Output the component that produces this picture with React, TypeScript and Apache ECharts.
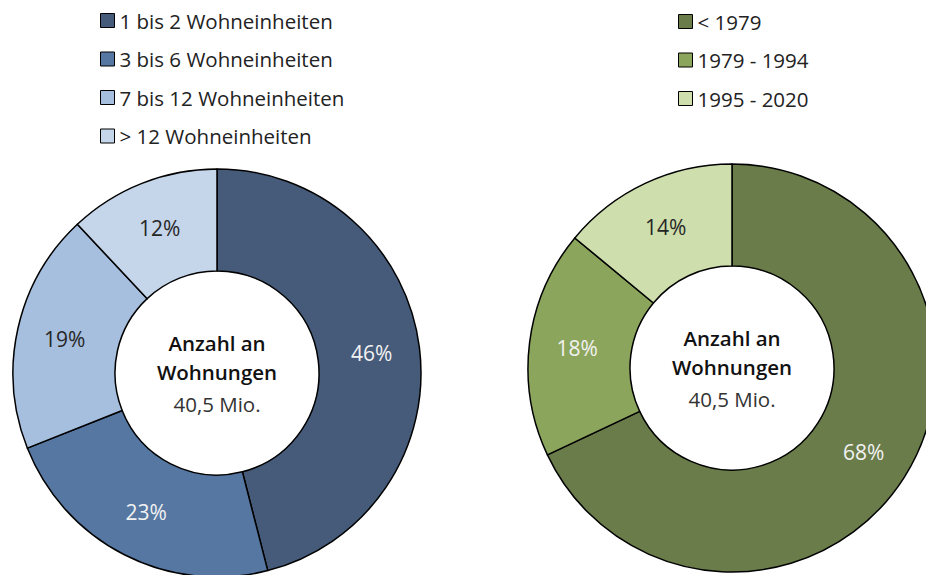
import React, { useEffect, useRef } from "react";
import * as echarts from "echarts";

const unitCategories = ["1 bis 2 Wohneinheiten", "3 bis 6 Wohneinheiten", "7 bis 12 Wohneinheiten", "> 12 Wohneinheiten"];
const unitValues = [46, 23, 19, 12];
const unitColors = ["#465B7A", "#5577A1", "#A6BFDE", "#C5D5EA"];
const unitLabelColors = ["#F2F2F2", "#F2F2F2", "#262626", "#262626"];

const yearCategories = ["< 1979", "1979 - 1994", "1995 - 2020"];
const yearValues = [68, 18, 14];
const yearColors = ["#6A7C4A", "#8CA55C", "#CEDEAD"];
const yearLabelColors = ["#F2F2F2", "#F2F2F2", "#262626"];

const centerLines = ["Anzahl an", "Wohnungen", "40,5 Mio."];

const FONT = "'Open Sans', 'Noto Sans', sans-serif";

export default function App() {
  const ref = useRef<HTMLDivElement>(null);
  useEffect(() => {
    document.body.style.margin = "0";
    const chart = echarts.init(ref.current!, null, { renderer: "svg" });
    const leftCenter = [217, 373];
    const rightCenter = [732, 368];
    const mkCenterText = (c: number[]) => [
      { type: "text", x: c[0], y: c[1] - 30, style: { text: centerLines[0], font: `600 20.5px ${FONT}`, fill: "#111", textAlign: "center", textVerticalAlign: "middle" } },
      { type: "text", x: c[0], y: c[1] - 1, style: { text: centerLines[1], font: `600 20.5px ${FONT}`, fill: "#111", textAlign: "center", textVerticalAlign: "middle" } },
      { type: "text", x: c[0], y: c[1] + 31, style: { text: centerLines[2], font: `400 20.5px ${FONT}`, fill: "#333", textAlign: "center", textVerticalAlign: "middle" } },
    ];
    const mkSeries = (name: string, cats: string[], vals: number[], cols: string[], lcols: string[], center: number[]) => ({
      type: "pie",
      name,
      center,
      radius: [102, 204],
      startAngle: 90,
      clockwise: true,
      avoidLabelOverlap: false,
      silent: true,
      itemStyle: { borderColor: "#000", borderWidth: 1.5 },
      label: { show: true, position: "inside", formatter: "{c}%", fontSize: 21, fontFamily: FONT },
      labelLine: { show: false },
      data: cats.map((n, i) => ({
        name: n,
        value: vals[i],
        itemStyle: { color: cols[i] },
        label: { color: lcols[i] },
      })),
    });
    chart.setOption({
      animation: false,
      legend: [
        {
          orient: "vertical",
          left: 100,
          top: 10,
          padding: 0,
          itemWidth: 14,
          itemHeight: 14,
          itemGap: 17.5,
          icon: "rect",
          data: unitCategories,
          textStyle: { fontSize: 20.5, fontFamily: FONT, color: "#222", lineHeight: 20 },
          itemStyle: { borderColor: "#000", borderWidth: 1 },
        },
        {
          orient: "vertical",
          left: 678,
          top: 11,
          padding: 0,
          itemWidth: 14,
          itemHeight: 14,
          itemGap: 17.5,
          icon: "rect",
          data: yearCategories,
          textStyle: { fontSize: 20.5, fontFamily: FONT, color: "#222", lineHeight: 20 },
          itemStyle: { borderColor: "#000", borderWidth: 1 },
        },
      ],
      series: [
        mkSeries("Wohneinheiten", unitCategories, unitValues, unitColors, unitLabelColors, leftCenter),
        mkSeries("Baujahr", yearCategories, yearValues, yearColors, yearLabelColors, rightCenter),
      ],
      graphic: [...mkCenterText(leftCenter), ...mkCenterText(rightCenter)],
    });
    return () => chart.dispose();
  }, []);
  return <div ref={ref} style={{ width: 926, height: 575 }} />;
}
